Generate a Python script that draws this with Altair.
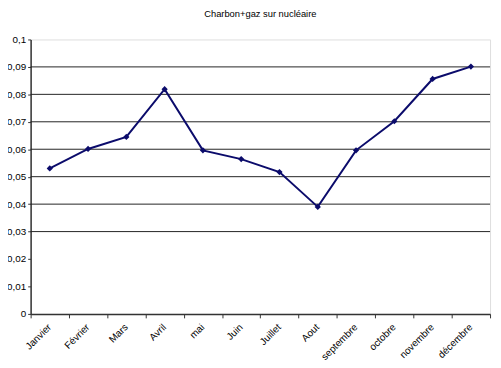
import altair as alt
import pandas as pd

months = ["Janvier", "Février", "Mars", "Avril", "mai", "Juin", "Juillet",
          "Aout", "septembre", "octobre", "novembre", "décembre"]
values = [0.053, 0.0601, 0.0645, 0.0819, 0.0596, 0.0564, 0.0517,
          0.039, 0.0596, 0.0702, 0.0856, 0.0901]
y_ticks = [0, 0.01, 0.02, 0.03, 0.04, 0.05, 0.06, 0.07, 0.08, 0.09, 0.1]
grid_values = [0.03, 0.04, 0.05, 0.06, 0.07, 0.08, 0.09]

df = pd.DataFrame({"mois": months, "val": values})
grid_df = pd.DataFrame({"val": grid_values})

FONT = "Liberation Sans"

x_enc = alt.X("mois:N", sort=months, title=None,
              scale=alt.Scale(type="band", paddingInner=0, paddingOuter=0),
              axis=alt.Axis(labelAngle=-45, labelFont=FONT, labelFontSize=10,
                            labelColor="#000", tickBand="extent", tickSize=4,
                            tickColor="#333", domainColor="#333", domainWidth=1.5,
                            labelPadding=4, labelOffset=-4, grid=False))
y_scale = alt.Scale(domain=[0, 0.1], nice=False, zero=True)
y_axis = alt.Axis(values=y_ticks, format=".2~f", labelExpr="replace(datum.label, '.', ',')",
                  labelFont=FONT, labelFontSize=10, labelColor="#000",
                  tickSize=3, tickColor="#333", domainColor="#333",
                  domainWidth=1.5, labelPadding=2, grid=False)
y_enc = alt.Y("val:Q", title=None, scale=y_scale, axis=y_axis)

line = alt.Chart(df).mark_line(color="#0b0b6b", strokeWidth=2).encode(x=x_enc, y=y_enc)
pts = alt.Chart(df).mark_point(shape="diamond", filled=True, size=40, opacity=1,
                               color="#0b0b6b").encode(x=x_enc, y=y_enc)
grid = alt.Chart(grid_df).mark_rule(color="#222", strokeWidth=1).encode(y=y_enc)

chart = alt.layer(grid, line, pts).properties(
    width=467, height=279,
    title=alt.TitleParams("Charbon+gaz sur nucléaire", font=FONT, fontSize=9.5,
                          fontWeight="normal", color="#000", offset=16),
    autosize=alt.AutoSizeParams(type="none"),
    padding={"left": 23, "top": 29, "right": 3, "bottom": 52},
).configure_view(stroke="#888", strokeWidth=1).configure(background="white")

chart.save("out.html", embed_options={"renderer": "svg", "actions": False})
